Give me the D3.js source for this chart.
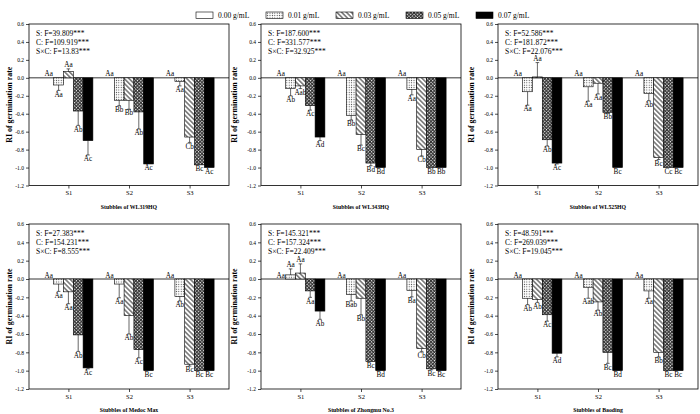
<!DOCTYPE html>
<html><head><meta charset="utf-8">
<script src="https://cdn.jsdelivr.net/npm/d3@7"></script>
<style>body{margin:0;background:#fff} svg{display:block;font-family:"Liberation Serif","Times New Roman",serif}</style>
</head><body><svg id="c" width="700" height="414"></svg>
<script>
const concentrations = ["0.00 g/mL","0.01 g/mL","0.03 g/mL","0.05 g/mL","0.07 g/mL"];
const sites = ["S1","S2","S3"];
const yTicks = [0.6,0.4,0.2,0.0,-0.2,-0.4,-0.6,-0.8,-1.0,-1.2];
const panelTitles = ["Stubbles of WL319HQ","Stubbles of WL343HQ","Stubbles of WL525HQ",
  "Stubbles of Medoc Max","Stubbles of Zhongmu No.3","Stubbles of Baoding"];
const fS = ["39.809","187.600","52.586","27.383","145.321","48.591"];
const fC = ["109.919","331.577","181.872","154.231","157.324","269.039"];
const fSC = ["13.83","32.925","22.076","8.555","22.409","19.045"];

// values per site [S1, S2, S3], each with five concentrations
const wl319Values = [[0,-0.08,0.07,-0.37,-0.70],[0,-0.25,-0.25,-0.38,-0.96],[0,-0.04,-0.66,-0.97,-1.0]];
const wl319Errors = [[0,0.06,0.03,0.16,0.16],[0,0.06,0.10,0.19,0],[0,0.05,0.06,0,0]];
const wl319Letters = [["Aa","Aa","Aa","Ab","Ac"],["Aa","Bb","Bb","Ab","Ac"],["Aa","Aa","Cb","Bc","Ac"]];

const wl343Values = [[0,-0.12,-0.09,-0.31,-0.66],[0,-0.42,-0.63,-0.95,-1.0],[0,-0.13,-0.80,-1.0,-1.0]];
const wl343Errors = [[0,0.08,0.03,0.05,0.04],[0,0.05,0.12,0.03,0],[0,0.06,0.07,0,0]];
const wl343Letters = [["Aa","Ab","Aab","Ac","Ad"],["Aa","Bb","Bc","Bd","Bd"],["Aa","Aa","Cb","Bb","Bb"]];

const wl525Values = [[0,-0.155,0.01,-0.69,-0.95],[0,-0.10,-0.06,-0.385,-1.0],[0,-0.175,-0.89,-1.0,-1.0]];
const wl525Errors = [[0,0.15,0.16,0.07,0.01],[0,0.16,0.12,0.01,0],[0,0.08,0.02,0,0]];
const wl525Letters = [["Aa","Aa","Aa","Ab","Ac"],["Aa","Aa","Aa","Bb","Bc"],["Aa","Ab","Bc","Cc","Bc"]];

const medocValues = [[0,-0.055,-0.14,-0.61,-0.97],[0,-0.055,-0.40,-0.77,-1.0],[0,-0.19,-0.93,-1.0,-1.0]];
const medocErrors = [[0,0.08,0.13,0.18,0.01],[0,0.15,0.20,0.09,0],[0,0.05,0.02,0,0]];
const medocLetters = [["Aa","Aa","Aa","Ab","Ac"],["Aa","Aa","Ab","Ac","Bc"],["Aa","Ab","Bc","Bc","Bc"]];

const zhongmuValues = [[0,0.045,0.065,-0.13,-0.35],[0,-0.17,-0.21,-0.90,-1.0],[0,-0.125,-0.76,-0.98,-1.0]];
const zhongmuErrors = [[0,0.065,0.10,0.07,0.09],[0,0.07,0.18,0,0],[0,0.07,0.03,0.01,0]];
const zhongmuLetters = [["Aa","Aa","Aa","Aa","Ab"],["Aa","Bab","Bb","Bc","Bd"],["Aa","Ba","Cb","Bc","Bc"]];

const baodingValues = [[0,-0.21,-0.225,-0.39,-0.81],[0,-0.09,-0.25,-0.80,-1.0],[0,-0.13,-0.80,-1.0,-1.0]];
const baodingErrors = [[0,0.07,0.03,0.07,0.04],[0,0.12,0.09,0.12,0],[0,0.08,0.05,0,0]];
const baodingLetters = [["Aa","Ab","Ab","Ac","Ad"],["Aa","Aab","Ab","Bc","Bd"],["Aa","Aa","Bb","Bc","Bc"]];

const panelValues = [wl319Values, wl343Values, wl525Values, medocValues, zhongmuValues, baodingValues];
const panelErrors = [wl319Errors, wl343Errors, wl525Errors, medocErrors, zhongmuErrors, baodingErrors];
const panelLetters = [wl319Letters, wl343Letters, wl525Letters, medocLetters, zhongmuLetters, baodingLetters];

const svg = d3.select("#c");
const defs = svg.append("defs");
// dotted
const pd = defs.append("pattern").attr("id","dots").attr("patternUnits","userSpaceOnUse").attr("width",2.4).attr("height",2.4);
pd.append("rect").attr("width",2.4).attr("height",2.4).attr("fill","#fff");
pd.append("circle").attr("cx",1.2).attr("cy",1.2).attr("r",0.55).attr("fill","#333");
// diagonal hatch "\"
const ph = defs.append("pattern").attr("id","hatch").attr("patternUnits","userSpaceOnUse").attr("width",3.4).attr("height",3.4).attr("patternTransform","rotate(-45)");
ph.append("rect").attr("width",3.4).attr("height",3.4).attr("fill","#fff");
ph.append("line").attr("x1",1.7).attr("x2",1.7).attr("y1",0).attr("y2",3.4).attr("stroke","#000").attr("stroke-width",0.85);
// dense cross
const pc = defs.append("pattern").attr("id","cross").attr("patternUnits","userSpaceOnUse").attr("width",2.4).attr("height",2.4).attr("patternTransform","rotate(45)");
pc.append("rect").attr("width",2.4).attr("height",2.4).attr("fill","#333");
pc.append("rect").attr("width",1.2).attr("height",1.2).attr("fill","#fff");

const fills = ["#fff","url(#dots)","url(#hatch)","url(#cross)","#000"];

const colLeft = [29, 261, 498];
const yTitleOff = [17, 24, 24];
const rowTop = [24, 224];
const rowBottom = [185.5, 389];
const W = 200;

panelValues.forEach((vals, p) => {
  const col = p % 3, row = Math.floor(p / 3);
  const L = colLeft[col], T = rowTop[row], B = rowBottom[row];
  const g = svg.append("g");
  const x0 = d3.scalePoint().domain(sites).range([L, L + W]).padding(0.65);
  const x1 = d3.scaleBand().domain(concentrations).range([-24.5, 24.5]);
  const y = d3.scaleLinear().domain([-1.2, 0.6]).range([B, T]);

  // axes
  const ya = g.append("g").attr("transform", `translate(${L},0)`)
    .call(d3.axisLeft(y).tickValues(yTicks).tickSize(3).tickPadding(2).tickFormat(d => d.toFixed(1)));
  ya.select(".domain").remove();
  ya.selectAll("text").attr("font-size", 5.5).attr("font-family", "Liberation Serif");
  ya.selectAll("line").attr("stroke-width", 0.7);
  const xa = g.append("g").attr("transform", `translate(0,${B})`)
    .call(d3.axisBottom(x0).tickSize(3).tickPadding(2));
  xa.select(".domain").remove();
  xa.selectAll("text").attr("font-size", 6.5).attr("font-family", "Liberation Serif");
  xa.selectAll("line").attr("stroke-width", 0.7);

  // zero line
  g.append("line").attr("x1", L).attr("x2", L + W).attr("y1", y(0)).attr("y2", y(0))
    .attr("stroke", "#000").attr("stroke-width", 0.8);

  const errs = panelErrors[p], lets = panelLetters[p];
  sites.forEach((s, si) => {
    concentrations.forEach((c, ci) => {
      const v = vals[si][ci], e = errs[si][ci], lab = lets[si][ci];
      const cx = x0(s) + x1(c) + x1.bandwidth() / 2;
      const bx = x0(s) + x1(c);
      if (v !== 0) {
        g.append("rect").attr("x", bx).attr("width", x1.bandwidth())
          .attr("y", Math.min(y(v), y(0))).attr("height", Math.abs(y(v) - y(0)))
          .attr("fill", fills[ci]).attr("stroke", "#000").attr("stroke-width", 0.6);
      }
      const end = v >= 0 ? v + e : v - e;
      if (e > 0) {
        g.append("line").attr("x1", cx).attr("x2", cx).attr("y1", y(v)).attr("y2", y(end))
          .attr("stroke", "#000").attr("stroke-width", 0.6);
        g.append("line").attr("x1", cx - 1.8).attr("x2", cx + 1.8).attr("y1", y(end)).attr("y2", y(end))
          .attr("stroke", "#000").attr("stroke-width", 0.6);
      }
      const t = g.append("text").attr("x", cx).attr("text-anchor", "middle")
        .attr("font-size", 7.2).attr("fill", "#000").text(lab);
      if (v >= 0) t.attr("y", y(end) - 1.5);
      else t.attr("y", y(end) + 1).attr("dy", "0.72em");
    });
  });

  // frame
  g.append("rect").attr("x", L).attr("y", T).attr("width", W).attr("height", B - T)
    .attr("fill", "none").attr("stroke", "#000").attr("stroke-width", 0.8);

  // annotations
  const ann = [`S: F=${fS[p]}***`, `C: F=${fC[p]}***`, `S×C: F=${fSC[p]}***`];
  ann.forEach((a, k) => {
    g.append("text").attr("x", L + 7).attr("y", T + 11.8 + k * 9.3).attr("font-size", 7.5).text(a);
  });

  // titles
  g.append("text").attr("transform", `translate(${L - yTitleOff[col]},${(T + B) / 2}) rotate(-90)`)
    .attr("text-anchor", "middle").attr("font-size", 7.9).attr("font-weight", "bold")
    .text("RI of germination rate");
  g.append("text").attr("x", L + W / 2).attr("y", B + 23).attr("text-anchor", "middle")
    .attr("font-size", 5.8).attr("font-weight", "bold").text(panelTitles[p]);
});

// legend
const legX = d3.scalePoint().domain(concentrations).range([196, 476]);
concentrations.forEach((c, i) => {
  const lx = legX(c);
  svg.append("rect").attr("x", lx).attr("y", 12).attr("width", 17).attr("height", 6.5)
    .attr("fill", fills[i]).attr("stroke", "#000").attr("stroke-width", 0.6);
  svg.append("text").attr("x", lx + 22).attr("y", 17.8).attr("font-size", 7.5).text(c);
});
</script></body></html>
